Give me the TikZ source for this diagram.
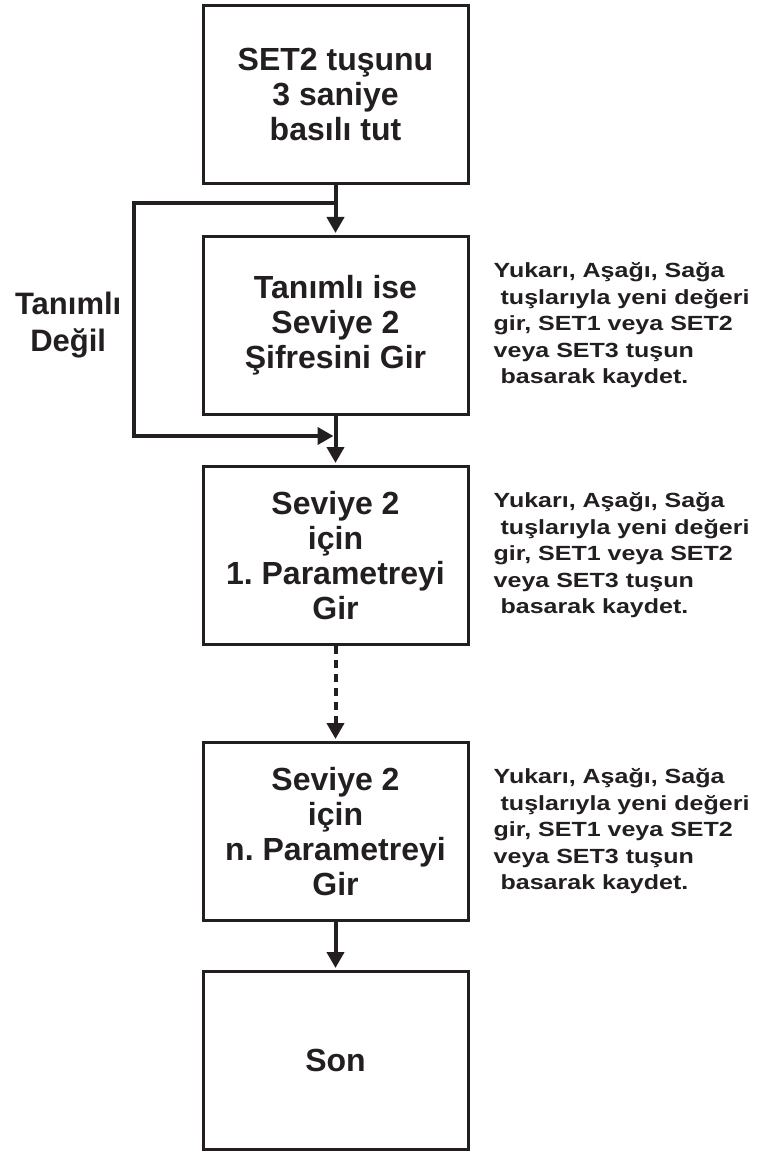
\documentclass[tikz,border=0pt]{standalone}
\usepackage{fontspec}
\setmainfont{Liberation Sans}
\newfontfamily\notefont[FakeStretch=1.22]{Liberation Sans}
\usetikzlibrary{arrows.meta, positioning}
\definecolor{ink}{RGB}{35, 31, 32}
\frenchspacing

\begin{document}
\begin{tikzpicture}[
    x=1pt, y=1pt,
    node distance=50pt,
    block/.style={rectangle, draw=ink, line width=3pt, minimum width=265pt, minimum height=178pt, align=center, text=ink, font=\fontsize{32pt}{35pt}\selectfont\bfseries},
    note/.style={align=left, inner sep=0pt, text=ink, font=\notefont\fontsize{20.5pt}{26.5pt}\selectfont\bfseries},
    lbl/.style={align=center, inner sep=0pt, text=ink, font=\fontsize{31pt}{37pt}\selectfont\bfseries},
    wire/.style={draw=ink, line width=4pt},
    arrow/.style={wire, -{Triangle[width=17pt,length=16pt]}},
    dotarrow/.style={arrow, dash pattern=on 8pt off 6pt}
]
\useasboundingbox (0,0) rectangle (756,-1155);

% kutular
\node[block] (start) at (335.5,-94.5) {SET2 tuşunu\\3 saniye\\basılı tut};
\node[block, below=50pt of start] (pass) {Tanımlı ise\\Seviye 2\\Şifresini Gir};
\node[block, below=49pt of pass] (first) {Seviye 2\\için\\1. Parametreyi\\Gir};
\node[block, below=95pt of first] (last) {Seviye 2\\için\\n. Parametreyi\\Gir};
\node[block, below=48pt of last] (stop) {Son};

% açıklamalar
\node[note, right=24pt of pass] (hint1) {Yukarı, Aşağı, Sağa\\\ tuşlarıyla yeni değeri\\gir, SET1 veya SET2\\veya SET3 tuşun\\\ basarak kaydet.};
\node[note, right=24pt of first] (hint2) {Yukarı, Aşağı, Sağa\\\ tuşlarıyla yeni değeri\\gir, SET1 veya SET2\\veya SET3 tuşun\\\ basarak kaydet.};
\node[note, right=24pt of last] (hint3) {Yukarı, Aşağı, Sağa\\\ tuşlarıyla yeni değeri\\gir, SET1 veya SET2\\veya SET3 tuşun\\\ basarak kaydet.};
\node[lbl, left=80pt of pass] (notdef) {Tanımlı\\Değil};

% oklar
\coordinate[below=18pt of start] (split);
\coordinate[below=20pt of pass] (merge);
\draw[arrow, shorten >=2pt] (start) -- (pass);
\draw[arrow, shorten >=2pt] (split) -| ([xshift=-68pt]pass.west) |- (merge);
\draw[arrow, shorten >=2pt] (pass) -- (first);
\draw[dotarrow, shorten >=2pt] (first) -- (last);
\draw[arrow, shorten >=2pt] (last) -- (stop);

\end{tikzpicture}
\end{document}
